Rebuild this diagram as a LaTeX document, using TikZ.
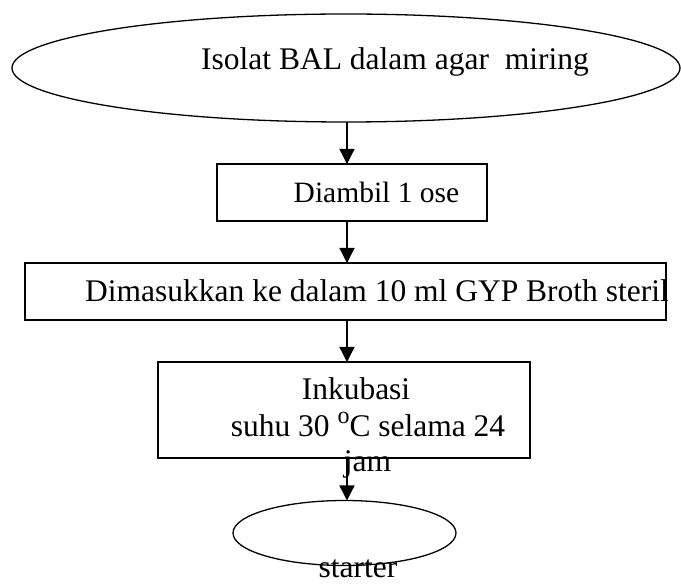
\documentclass[tikz,border=0pt]{standalone}
\usepackage{fontspec}
\setmainfont{Liberation Serif}
\usetikzlibrary{shapes.geometric, arrows.meta}

\begin{document}
\begin{tikzpicture}[
    x=1pt, y=-1pt,
    kotak/.style={rectangle, draw, line width=1.3pt, inner sep=0pt, outer sep=0pt},
    lonjong/.style={ellipse, draw, line width=1.3pt, inner sep=0pt, outer sep=0pt},
    teks/.style={anchor=base, inner sep=0pt, font=\fontsize{31.5}{35}\selectfont},
    panah/.style={-{Triangle[length=15pt, width=15pt]}, line width=1.3pt}
]
  \useasboundingbox (0,0) rectangle (681,585);

  % bentuk-bentuk
  \node[lonjong, minimum width=668pt, minimum height=108pt] (isolat) at (346,68) {};
  \node[kotak, minimum width=270pt, minimum height=57pt] (ambil) at (352,192.5) {};
  \node[kotak, minimum width=641pt, minimum height=57pt] (masuk) at (345.5,291.5) {};
  \node[kotak, minimum width=372pt, minimum height=96pt] (inkubasi) at (344,410) {};
  \node[lonjong, minimum width=223pt, minimum height=65pt] (starter) at (344.5,533) {};
  \coordinate (kolom) at (347,0);

  % tulisan
  \node[teks] (isolatTxt) at (395,70) {Isolat BAL dalam agar\ \ miring};
  \node[teks, font=\fontsize{29.5}{33}\selectfont] (ambilTxt) at (376.5,203) {Diambil 1 ose};
  \node[teks] (masukTxt) at (377,302) {Dimasukkan ke dalam 10 ml GYP Broth steril};
  \node[teks] (inkubasiTxt) at (356,400) {Inkubasi};
  \node[teks] (suhuTxt) at (368,437) {suhu 30 \raisebox{0.42em}{\fontsize{24}{24}\selectfont o}C selama 24};
  \node[teks] (jamTxt) at (367.5,472) {jam};
  \node[teks] (starterTxt) at (358,577.5) {starter};

  % panah
  \draw[panah] (isolat.south -| kolom) -- (ambil.north -| kolom);
  \draw[panah] (ambil.south -| kolom) -- (masuk.north -| kolom);
  \draw[panah] (masuk.south -| kolom) -- (inkubasi.north -| kolom);
  \draw[panah] (inkubasi.south -| kolom) -- (starter.north -| kolom);
\end{tikzpicture}
\end{document}
